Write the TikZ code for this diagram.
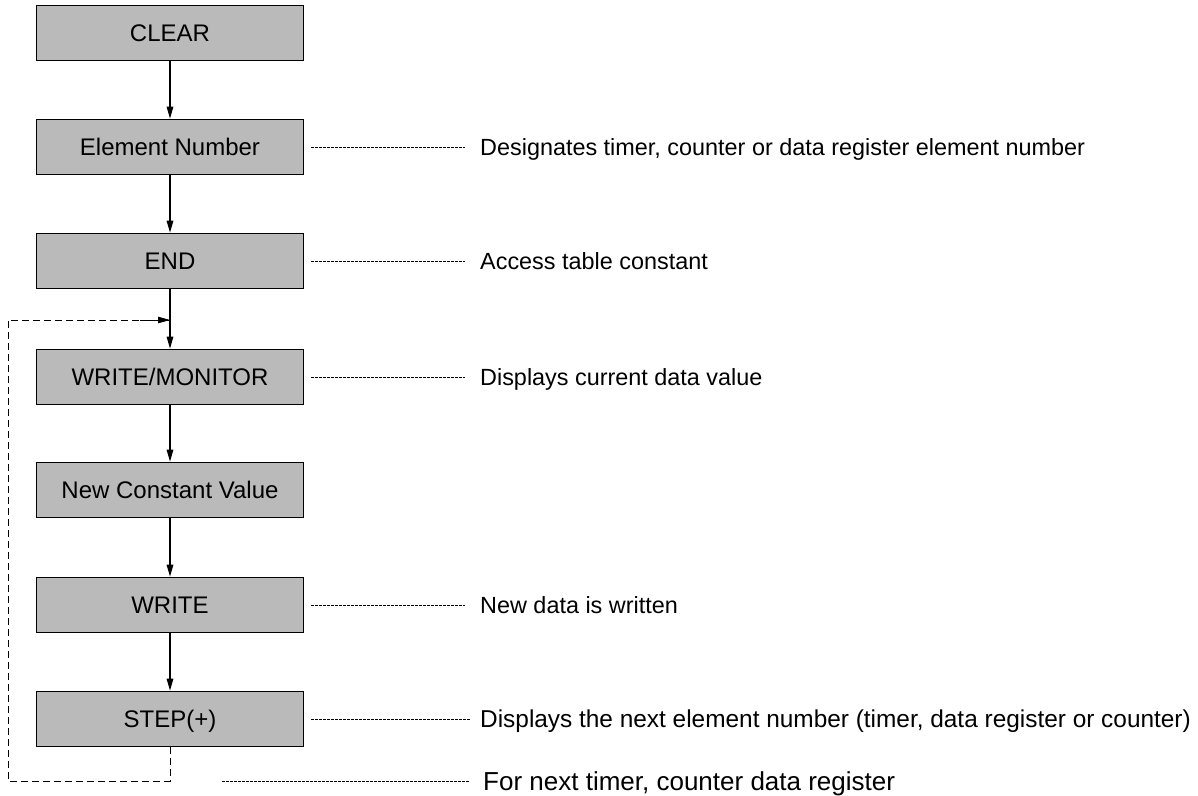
\documentclass[tikz,border=0pt]{standalone}
\usepackage{fontspec}
\setmainfont{Liberation Sans}
\usetikzlibrary{arrows.meta}
\begin{document}
\begin{tikzpicture}[x=1pt,y=-1pt,
  stepbox/.style={draw=black, line width=1.6pt, fill=black!27,
    minimum width=267pt, minimum height=55pt, inner sep=0pt,
    text height=17pt, text depth=0pt,
    font=\fontsize{24}{27}\selectfont},
  flow/.style={line width=1.4pt, -{Triangle[length=12pt,width=6.5pt]}},
  leader/.style={line width=0.8pt, dash pattern=on 2.5pt off 1.5pt},
  loopback/.style={line width=0.8pt, dash pattern=on 7pt off 4pt},
  note/.style={anchor=base west, inner sep=0pt, font=\fontsize{23.4}{26}\selectfont}]
\useasboundingbox (0,0) rectangle (1198,795);

% main sequence of keys
\node[stepbox] (clr)  at (170,33)  {CLEAR};
\node[stepbox] (elem) at (170,147) {Element Number};
\node[stepbox] (endk) at (170,261) {END};
\node[stepbox] (wrm)  at (170,377) {WRITE/MONITOR};
\node[stepbox] (ncv)  at (170,490) {New Constant Value};
\node[stepbox] (wr)   at (170,605) {WRITE};
\node[stepbox] (stp)  at (170,719) {STEP(+)};

\draw[flow] (clr) -- (elem);
\draw[flow] (elem) -- (endk);
\draw[flow] (endk) -- (wrm);
\draw[flow] (wrm) -- (ncv);
\draw[flow] (ncv) -- (wr);
\draw[flow] (wr) -- (stp);

% loop back for the next element
\coordinate (join) at (170,320);
\coordinate (lowR) at (170,781);
\coordinate (lowL) at (8,781);
\coordinate (upL)  at (8,320);
\draw[loopback] (stp.south) -- (lowR) -- (lowL) -- (upL) -- (join);
\draw[line width=0.8pt, -{Triangle[length=12pt,width=6.5pt]}] (140,320) -- (join);

% explanatory notes
\node[note] (n1) at (480,155) {Designates timer, counter or data register element number};
\node[note] (n2) at (480,269) {Access table constant};
\node[note] (n3) at (480,385) {Displays current data value};
\node[note] (n4) at (480,613) {New data is written};
\node[note, font=\fontsize{24.4}{27}\selectfont] (n5) at (480,727)
  {Displays the next element number (timer, data register or counter)};
\node[note, font=\fontsize{26}{29}\selectfont] (n6) at (483,790)
  {For next timer, counter data register};

\coordinate (e1) at (465,147);
\coordinate (e2) at (465,261);
\coordinate (e3) at (465,377);
\coordinate (e4) at (465,605);
\coordinate (e5) at (470,719);
\coordinate (e6) at (470,781);
\draw[leader] (elem.east) ++(7,0) -- (e1);
\draw[leader] (endk.east) ++(7,0) -- (e2);
\draw[leader] (wrm.east) ++(7,0) -- (e3);
\draw[leader] (wr.east) ++(7,0) -- (e4);
\draw[leader] (stp.east) ++(7,0) -- (e5);
\coordinate (n6start) at (222,781);
\draw[leader] (n6start) -- (e6);
\end{tikzpicture}
\end{document}
